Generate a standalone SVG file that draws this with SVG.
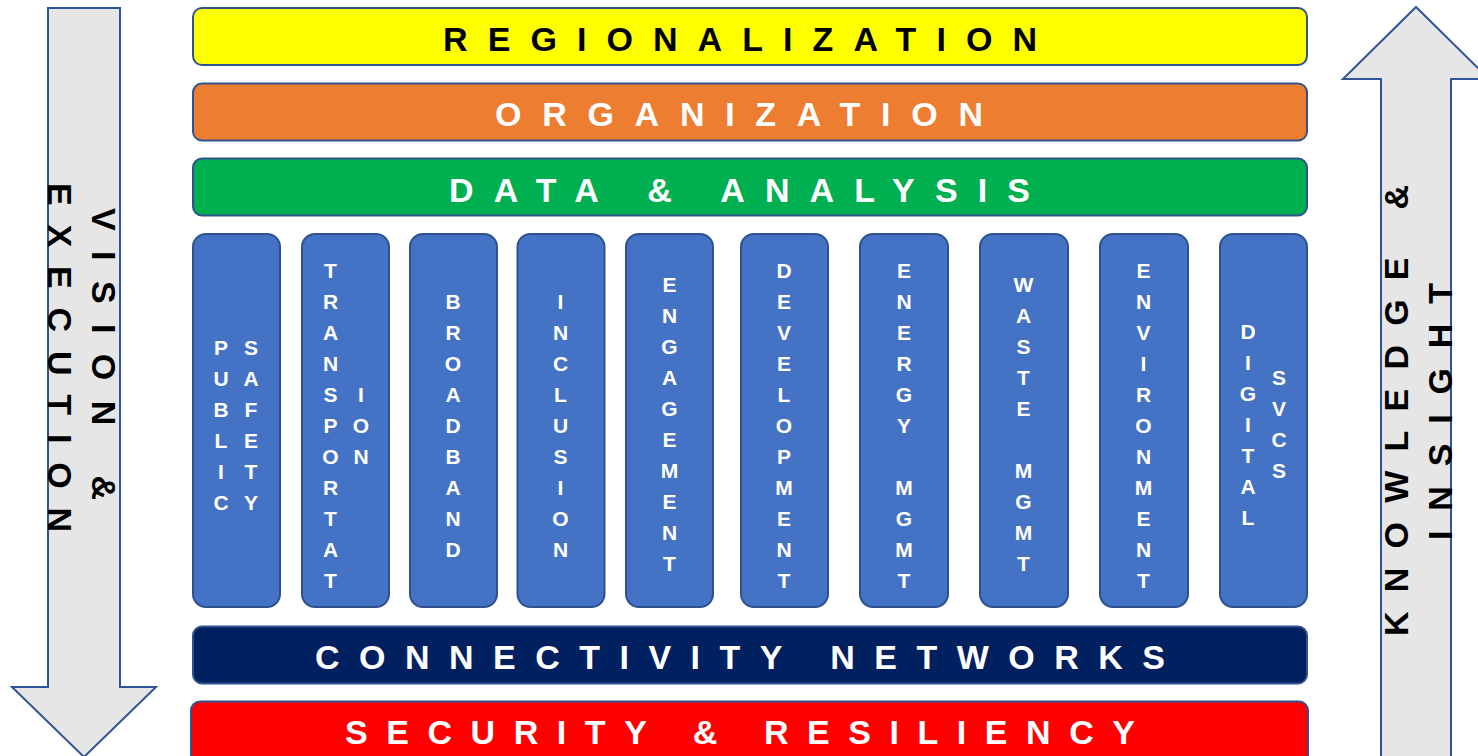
<svg xmlns="http://www.w3.org/2000/svg" width="1478" height="756" viewBox="0 0 1478 756">
<style>
.bar{stroke:#2F528F;stroke-width:2}
.col{fill:#4472C4;stroke:#2F528F;stroke-width:2}
.arrow{fill:#E7E6E6;stroke:#2F5597;stroke-width:2;stroke-linejoin:miter}
.big{font-family:"Liberation Sans",Arial,sans-serif;font-weight:bold;font-size:34px;text-anchor:middle}
.ct{font-family:"Liberation Sans",Arial,sans-serif;font-weight:bold;font-size:21px;fill:#FFFFFF;text-anchor:middle}
</style>
<rect width="1478" height="756" fill="#FFFFFF"/>

<g id="arrow-left">
<path class="arrow" d="M48,8 L120,8 L120,687 L156,687 L84,757 L12,687 L48,687 Z"/>
<text class="big" fill="#000000" transform="translate(92,354) rotate(90)" textLength="292" lengthAdjust="spacing">VISION &amp;</text>
<text class="big" fill="#000000" transform="translate(48,357.5) rotate(90)" textLength="349" lengthAdjust="spacing">EXECUTION</text>
</g>

<g id="arrow-right">
<path class="arrow" d="M1381,760 L1381,79 L1343,79 L1416,7 L1489,79 L1451,79 L1451,760 Z"/>
<text class="big" fill="#000000" transform="translate(1408,410.5) rotate(-90)" textLength="451" lengthAdjust="spacing">KNOWLEDGE &amp;</text>
<text class="big" fill="#000000" transform="translate(1452,411.5) rotate(-90)" textLength="257" lengthAdjust="spacing">INSIGHT</text>
</g>

<g id="regionalization">
<rect class="bar" x="193" y="8" width="1114" height="57" rx="9" fill="#FFFF00"/>
<text class="big" fill="#000000" x="740" y="50.5" textLength="594" lengthAdjust="spacing">REGIONALIZATION</text>
</g>
<g id="organization">
<rect class="bar" x="193" y="83.5" width="1114" height="57" rx="9" fill="#ED7D31"/>
<text class="big" fill="#FFFFFF" x="739" y="126" textLength="488" lengthAdjust="spacing">ORGANIZATION</text>
</g>
<g id="data-analysis">
<rect class="bar" x="193" y="158.5" width="1114" height="57" rx="9" fill="#00B050"/>
<text class="big" fill="#FFFFFF" x="739.5" y="201.5" textLength="581" lengthAdjust="spacing">DATA &amp; ANALYSIS</text>
</g>

<g id="public-safety">
<rect class="col" x="193" y="234" width="87" height="373" rx="13"/>
<text class="ct"><tspan x="221" y="355">P</tspan><tspan x="221" y="386">U</tspan><tspan x="221" y="417">B</tspan><tspan x="221" y="448">L</tspan><tspan x="221" y="479">I</tspan><tspan x="221" y="510">C</tspan></text>
<text class="ct"><tspan x="251" y="355">S</tspan><tspan x="251" y="386">A</tspan><tspan x="251" y="417">F</tspan><tspan x="251" y="448">E</tspan><tspan x="251" y="479">T</tspan><tspan x="251" y="510">Y</tspan></text>
</g>
<g id="transportation">
<rect class="col" x="302" y="234" width="87" height="373" rx="13"/>
<text class="ct"><tspan x="330.5" y="278">T</tspan><tspan x="330.5" y="309">R</tspan><tspan x="330.5" y="340">A</tspan><tspan x="330.5" y="371">N</tspan><tspan x="330.5" y="402">S</tspan><tspan x="330.5" y="433">P</tspan><tspan x="330.5" y="464">O</tspan><tspan x="330.5" y="495">R</tspan><tspan x="330.5" y="526">T</tspan><tspan x="330.5" y="557">A</tspan><tspan x="330.5" y="588">T</tspan></text>
<text class="ct"><tspan x="361" y="402">I</tspan><tspan x="361" y="433">O</tspan><tspan x="361" y="464">N</tspan></text>
</g>
<g id="broadband">
<rect class="col" x="410" y="234" width="87" height="373" rx="13"/>
<text class="ct"><tspan x="453" y="309">B</tspan><tspan x="453" y="340">R</tspan><tspan x="453" y="371">O</tspan><tspan x="453" y="402">A</tspan><tspan x="453" y="433">D</tspan><tspan x="453" y="464">B</tspan><tspan x="453" y="495">A</tspan><tspan x="453" y="526">N</tspan><tspan x="453" y="557">D</tspan></text>
</g>
<g id="inclusion">
<rect class="col" x="517.5" y="234" width="87" height="373" rx="13"/>
<text class="ct"><tspan x="560.5" y="309">I</tspan><tspan x="560.5" y="340">N</tspan><tspan x="560.5" y="371">C</tspan><tspan x="560.5" y="402">L</tspan><tspan x="560.5" y="433">U</tspan><tspan x="560.5" y="464">S</tspan><tspan x="560.5" y="495">I</tspan><tspan x="560.5" y="526">O</tspan><tspan x="560.5" y="557">N</tspan></text>
</g>
<g id="engagement">
<rect class="col" x="626" y="234" width="87" height="373" rx="13"/>
<text class="ct"><tspan x="669.5" y="292">E</tspan><tspan x="669.5" y="323">N</tspan><tspan x="669.5" y="354">G</tspan><tspan x="669.5" y="385">A</tspan><tspan x="669.5" y="416">G</tspan><tspan x="669.5" y="447">E</tspan><tspan x="669.5" y="478">M</tspan><tspan x="669.5" y="509">E</tspan><tspan x="669.5" y="540">N</tspan><tspan x="669.5" y="571">T</tspan></text>
</g>
<g id="development">
<rect class="col" x="741" y="234" width="87" height="373" rx="13"/>
<text class="ct"><tspan x="784" y="278">D</tspan><tspan x="784" y="309">E</tspan><tspan x="784" y="340">V</tspan><tspan x="784" y="371">E</tspan><tspan x="784" y="402">L</tspan><tspan x="784" y="433">O</tspan><tspan x="784" y="464">P</tspan><tspan x="784" y="495">M</tspan><tspan x="784" y="526">E</tspan><tspan x="784" y="557">N</tspan><tspan x="784" y="588">T</tspan></text>
</g>
<g id="energy-mgmt">
<rect class="col" x="860" y="234" width="88" height="373" rx="13"/>
<text class="ct"><tspan x="904" y="278">E</tspan><tspan x="904" y="309">N</tspan><tspan x="904" y="340">E</tspan><tspan x="904" y="371">R</tspan><tspan x="904" y="402">G</tspan><tspan x="904" y="433">Y</tspan><tspan x="904" y="495">M</tspan><tspan x="904" y="526">G</tspan><tspan x="904" y="557">M</tspan><tspan x="904" y="588">T</tspan></text>
</g>
<g id="waste-mgmt">
<rect class="col" x="980" y="234" width="88" height="373" rx="13"/>
<text class="ct"><tspan x="1023.5" y="292">W</tspan><tspan x="1023.5" y="323">A</tspan><tspan x="1023.5" y="354">S</tspan><tspan x="1023.5" y="385">T</tspan><tspan x="1023.5" y="416">E</tspan><tspan x="1023.5" y="478">M</tspan><tspan x="1023.5" y="509">G</tspan><tspan x="1023.5" y="540">M</tspan><tspan x="1023.5" y="571">T</tspan></text>
</g>
<g id="environment">
<rect class="col" x="1100" y="234" width="88" height="373" rx="13"/>
<text class="ct"><tspan x="1143.5" y="278">E</tspan><tspan x="1143.5" y="309">N</tspan><tspan x="1143.5" y="340">V</tspan><tspan x="1143.5" y="371">I</tspan><tspan x="1143.5" y="402">R</tspan><tspan x="1143.5" y="433">O</tspan><tspan x="1143.5" y="464">N</tspan><tspan x="1143.5" y="495">M</tspan><tspan x="1143.5" y="526">E</tspan><tspan x="1143.5" y="557">N</tspan><tspan x="1143.5" y="588">T</tspan></text>
</g>
<g id="digital-svcs">
<rect class="col" x="1220" y="234" width="87" height="373" rx="13"/>
<text class="ct"><tspan x="1248" y="339">D</tspan><tspan x="1248" y="370">I</tspan><tspan x="1248" y="401">G</tspan><tspan x="1248" y="432">I</tspan><tspan x="1248" y="463">T</tspan><tspan x="1248" y="494">A</tspan><tspan x="1248" y="525">L</tspan></text>
<text class="ct"><tspan x="1279" y="385">S</tspan><tspan x="1279" y="416">V</tspan><tspan x="1279" y="447">C</tspan><tspan x="1279" y="478">S</tspan></text>
</g>

<g id="connectivity-networks">
<rect class="bar" x="193" y="626.5" width="1114" height="57" rx="9" fill="#002060"/>
<text class="big" fill="#FFFFFF" x="740" y="669" textLength="850" lengthAdjust="spacing">CONNECTIVITY NETWORKS</text>
</g>
<g id="security-resiliency">
<rect class="bar" x="191" y="701.5" width="1117" height="70" rx="9" fill="#FF0000"/>
<text class="big" fill="#FFFFFF" x="740" y="744" textLength="790" lengthAdjust="spacing">SECURITY &amp; RESILIENCY</text>
</g>

<g id="connectors"></g>
</svg>
